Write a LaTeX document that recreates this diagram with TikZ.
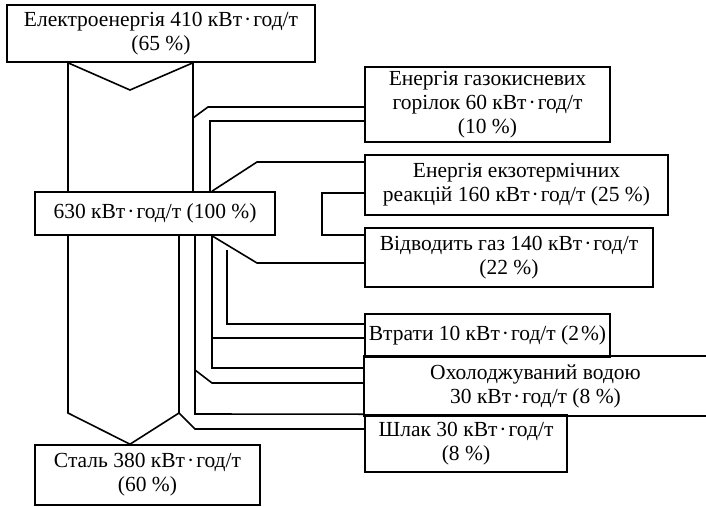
\documentclass[tikz,border=0pt]{standalone}
\usepackage{fontspec}
\setmainfont{Liberation Serif}
\usetikzlibrary{calc}

\tikzset{
  blk/.style={draw, line width=1.6pt, align=center, inner sep=1pt,
    font=\fontsize{21.5}{24}\selectfont},
  pipe/.style={line width=1.6pt, line join=miter},
}
\newcommand{\kwt}{кВт\kern2pt·\kern2pt год/т}

\begin{document}
\begin{tikzpicture}[x=1pt,y=-1pt]
  \useasboundingbox (0,0) rectangle (706,506);

  % balance blocks
  \node[blk, minimum width=308pt, minimum height=57pt] (elec) at (161,33.5)
    {Електроенергія 410 \kwt\\(65 \%)};
  \node[blk, minimum width=245pt, minimum height=75pt] (gas) at (487.5,104.5)
    {Енергія газокисневих\\горілок 60 \kwt\\(10 \%)};
  \node[blk, minimum width=303pt, minimum height=60pt] (exo) at (516.5,185)
    {Енергія екзотермічних\\реакцій 160 \kwt{} (25 \%)};
  \node[blk, minimum width=240pt, minimum height=43pt] (mid) at (155,213.5)
    {630 \kwt{} (100 \%)};
  \node[blk, minimum width=288pt, minimum height=59pt] (vent) at (509,257.5)
    {Відводить газ 140 \kwt\\(22 \%)};
  \node[blk, minimum width=245pt, minimum height=43pt] (loss) at (487.5,335.5)
    {Втрати 10 \kwt{} (2\kern2pt\%)};
  \node[blk, draw=none, minimum width=341pt, minimum height=58pt] (water) at (535.5,386)
    {Охолоджуваний водою\\30 \kwt{} (8 \%)};
  \node[blk, minimum width=202pt, minimum height=57pt] (slag) at (466,443.5)
    {Шлак 30 \kwt\\(8 \%)};
  \node[blk, minimum width=225pt, minimum height=60pt] (steel) at (147.5,475)
    {Сталь 380 \kwt\\(60 \%)};
  \draw[pipe] (water.north east) -- (water.north west) -- (water.south west) -- (water.south east);

  % main stream
  \draw[pipe] (elec.south -| 68,0) -- (mid.north -| 68,0);
  \draw[pipe] (elec.south -| 68,0) -- (130,90) -- (elec.south -| 193,0);
  \draw[pipe] (elec.south -| 193,0) -- (mid.north -| 193,0);
  % gas burners
  \draw[pipe] (gas.west |- 0,107) -- (208,107) -- (193,118);
  \draw[pipe] (gas.west |- 0,121) -- (210,121) -- (mid.north -| 210,0);
  % exothermic reactions
  \draw[pipe] (exo.west |- 0,162) -- (257,162) -- (mid.north -| 212,0);
  \draw[pipe] (exo.west |- 0,193) -- (322,193) -- (322,235) -- (vent.west |- 0,235);
  % off-gas
  \draw[pipe] (mid.south -| 212,0) -- (257,263) -- (vent.west |- 0,263);
  % losses
  \draw[pipe] (227,250) -- (227,324) -- (loss.west |- 0,324);
  \draw[pipe] (212,338) -- (loss.west |- 0,338);
  % cooling water
  \draw[pipe] (mid.south -| 212,0) -- (212,368) -- (water.west |- 0,368);
  \draw[pipe] (195,370) -- (212,383) -- (water.west |- 0,383);
  % slag
  \draw[pipe] (mid.south -| 195,0) -- (195,414) -- (slag.north west);
  \draw[pipe] (179,413) -- (195,429) -- (slag.west |- 0,429);
  % steel
  \draw[pipe] (mid.south -| 68,0) -- (68,413) -- (steel.north -| 130,0) -- (179,413) -- (mid.south -| 179,0);
\end{tikzpicture}
\end{document}
